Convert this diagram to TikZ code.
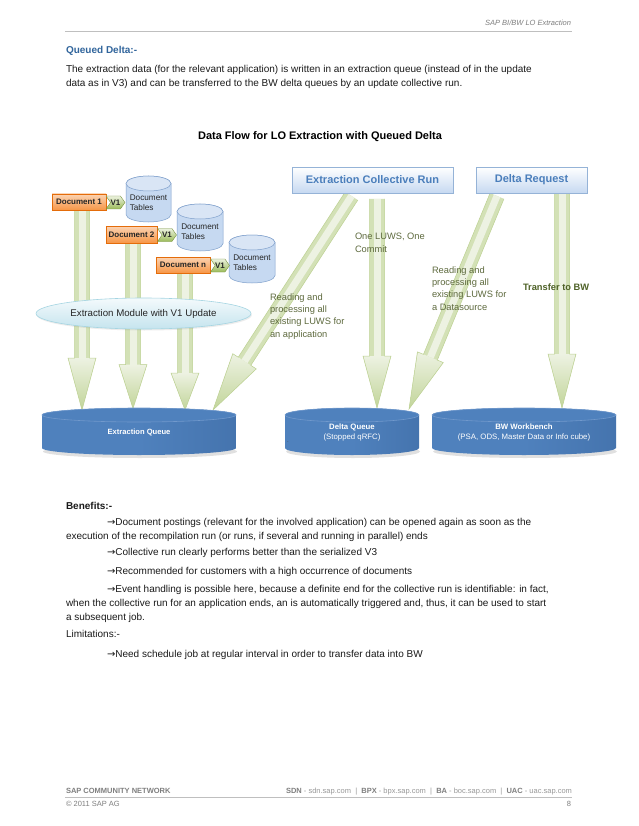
\documentclass[tikz,border=0pt]{standalone}
\usepackage{fontspec}
\setmainfont{Liberation Sans}
\newfontfamily\arrowfont{DejaVu Sans}
\usetikzlibrary{calc,shapes.geometric,shapes.symbols,shadows}
\pgfdeclarelayer{bg}
\pgfsetlayers{bg,main}
\definecolor{hdrgray}{HTML}{7F7F7F}
\definecolor{rulegray}{HTML}{BFBFBF}
\definecolor{qblue}{HTML}{31659C}
\definecolor{bodytxt}{HTML}{1A1A1A}
\definecolor{runblue}{HTML}{4A7EBB}
\definecolor{runline}{HTML}{95B3D7}
\definecolor{runfill}{HTML}{C6D9F1}
\definecolor{docline}{HTML}{E46C0A}
\definecolor{doctop}{HTML}{FBD4B4}
\definecolor{docbot}{HTML}{F79646}
\definecolor{vline}{HTML}{76923C}
\definecolor{vtop}{HTML}{EBF1DE}
\definecolor{vbot}{HTML}{9BBB59}
\definecolor{tblfill}{HTML}{C6D9F1}
\definecolor{tbltop}{HTML}{D9E5F5}
\definecolor{tblline}{HTML}{7E9FCB}
\definecolor{modline}{HTML}{A5D5E2}
\definecolor{modtop}{HTML}{F4FAFC}
\definecolor{modbot}{HTML}{C5E4EE}
\definecolor{cylblue}{HTML}{4F81BD}
\definecolor{cylside}{HTML}{4574AE}
\definecolor{cylrim}{HTML}{7199CC}
\definecolor{arrout}{HTML}{D3E1B6}
\definecolor{arrline}{HTML}{BDD193}
\definecolor{arrin}{HTML}{EDF2E2}
\definecolor{arrdark}{HTML}{C2D59A}
\definecolor{lblolive}{HTML}{5E6A3E}
\definecolor{xferolive}{HTML}{4F6228}
\newcommand\rarr{{\arrowfont\fontsize{10}{10}\selectfont →}}
% #1 start, #2 tip, #3 head length
\newcommand\blockarrow[3]{%
  \coordinate (ba-h) at ($(#2)!#3pt!(#1)$);
  \fill[arrowouter] ($(#1)!7.5pt!90:(#2)$) -- ($(ba-h)!7.5pt!90:(#2)$) -- ($(ba-h)!14pt!90:(#2)$) -- (#2) -- ($(ba-h)!14pt!-90:(#2)$) -- ($(ba-h)!7.5pt!-90:(#2)$) -- ($(#1)!7.5pt!-90:(#2)$) -- cycle;
  \fill[arrowinner] ($(#1)!3.5pt!90:(#2)$) -- ($(ba-h)!3.5pt!90:(#2)$) -- ($(ba-h)!3.5pt!-90:(#2)$) -- ($(#1)!3.5pt!-90:(#2)$) -- cycle;
  \shade[top color=arrin, bottom color=arrdark] ($(ba-h)!13.6pt!90:(#2)$) -- ($(#2)!0.6pt!(#1)$) -- ($(ba-h)!13.6pt!-90:(#2)$) -- cycle;
  \draw[arrowline] ($(#1)!7.5pt!90:(#2)$) -- ($(ba-h)!7.5pt!90:(#2)$) -- ($(ba-h)!14pt!90:(#2)$) -- (#2) -- ($(ba-h)!14pt!-90:(#2)$) -- ($(ba-h)!7.5pt!-90:(#2)$) -- ($(#1)!7.5pt!-90:(#2)$);
}
\newcommand\drawcyl[7]{%
  \pgfmathsetmacro\cylrx{(#2-#1)/2}%
  \pgfmathsetmacro\cylcx{(#1+#2)/2}%
  \pgfmathsetmacro\cylyt{#3+#5}%
  \pgfmathsetmacro\cylyb{#4-#5}%
  \path[#6] (#1,\cylyt) -- (#1,\cylyb) arc[start angle=180, end angle=0, x radius=\cylrx, y radius=#5] -- (#2,\cylyt) arc[start angle=0, end angle=-180, x radius=\cylrx, y radius=#5] -- cycle;
  \path[#7] (\cylcx,\cylyt) ellipse[x radius=\cylrx, y radius=#5];
}
\tikzset{
  arrowouter/.style={fill=arrout},
  arrowinner/.style={fill=arrin},
  arrowline/.style={draw=arrline, line width=0.5pt, line join=miter},
  bodyline/.style={anchor=base west, font=\fontsize{10}{12}\selectfont, text=bodytxt},
  docbox/.style={rectangle, draw=docline, line width=0.4pt, top color=doctop, bottom color=docbot,
    font=\fontsize{8}{9.6}\selectfont\bfseries, text=black!85, drop shadow={opacity=0.3, shadow xshift=0.8pt, shadow yshift=-1.2pt}},
  vone/.style={signal, signal from=west, signal to=east, signal pointer angle=110, draw=vline, line width=0.4pt,
    top color=vtop, bottom color=vbot, minimum width=17pt, minimum height=13pt, font=\fontsize{8}{9}\selectfont\bfseries, text=black!85},
  tbltext/.style={align=left, font=\fontsize{8.2}{10}\selectfont, text=black!85},
  runbox/.style={rectangle, draw=runline, line width=0.6pt, top color=white, bottom color=runfill, text=runblue,
    font=\fontsize{11}{13}\selectfont\bfseries, drop shadow={opacity=0.25, shadow xshift=1pt, shadow yshift=-1.5pt}},
  modell/.style={ellipse, draw=modline, line width=0.6pt, top color=modtop, bottom color=modbot,
    font=\fontsize{9.7}{11}\selectfont, text=black!85, minimum width=215pt, minimum height=31pt,
    drop shadow={opacity=0.15, shadow xshift=0.8pt, shadow yshift=-1.5pt}},
  cyltext/.style={align=center, text=white, font=\fontsize{7.8}{10}\selectfont, minimum height=50pt},
  lbl/.style={anchor=north west, align=left, font=\fontsize{9.3}{12.3}\selectfont, text=lblolive},
  blucylbody/.style={left color=cylblue, right color=cylside, middle color=cylblue},
  blucyltop/.style={fill=cylblue, draw=cylrim, line width=0.6pt},
  tblbody/.style={fill=tblfill, draw=tblline, line width=0.5pt},
  tbltopst/.style={fill=tbltop, draw=tblline, line width=0.5pt},
}
\begin{document}
\begin{tikzpicture}[x=1pt, y=-1pt, every node/.style={inner sep=0pt, outer sep=0pt}]
\useasboundingbox (0,0) rectangle (638,826);
\begin{pgfonlayer}{bg}
\fill[white] (0,0) rectangle (638,826);
\end{pgfonlayer}

% header
\node[anchor=base east, font=\fontsize{7.5}{9}\selectfont\itshape, text=hdrgray] (hdr) at (571,26) {SAP BI/BW LO Extraction};
\draw[rulegray, line width=0.6pt] (65,31) -- (572,31);
\node[anchor=base west, font=\fontsize{10}{12}\selectfont\bfseries, text=qblue] (qd) at (66,54) {Queued Delta:-};
\node[bodyline] (p1) at (66,73) {The extraction data (for the relevant application) is written in an extraction queue (instead of in the update};
\node[bodyline] (p2) at (66,87) {data as in V3) and can be transferred to the BW delta queues by an update collective run.};

% title
\node[anchor=base, font=\fontsize{11}{13}\selectfont\bfseries, text=black] (title) at (320,140) {Data Flow for LO Extraction with Queued Delta};

% top boxes
\node[runbox, minimum width=161pt, minimum height=26pt] (ecr) at (372.5,180) {Extraction Collective Run};
\node[runbox, minimum width=111pt, minimum height=26pt] (dr) at (531.5,180) {Delta Request};

% extraction module ellipse
\node[modell] (em) at (143.5,313.5) {Extraction Module with V1 Update};

% document tables cylinders
\drawcyl{126}{171}{176}{222}{7.5}{tblbody}{tbltopst}
\drawcyl{177}{223}{204}{251}{7.5}{tblbody}{tbltopst}
\drawcyl{229}{275}{235}{283}{7.5}{tblbody}{tbltopst}
\node[tbltext] (t1) at (148.5,203) {Document\\Tables};
\node[tbltext] (t2) at (200,231.5) {Document\\Tables};
\node[tbltext] (t3) at (252,263) {Document\\Tables};

% documents
\node[docbox, minimum width=54pt, minimum height=16pt] (doc1) at (79,202) {Document 1};
\node[docbox, minimum width=51pt, minimum height=17pt] (doc2) at (131.5,234.5) {Document 2};
\node[docbox, minimum width=54pt, minimum height=16pt] (docn) at (183,265) {Document n};
\node[vone] (v1a) at (115.5,202.5) {V1};
\node[vone] (v1b) at (167,235) {V1};
\node[vone] (v1c) at (220,265.5) {V1};

% bottom cylinders
\fill[black, opacity=0.12] (140,451.5) ellipse[x radius=97, y radius=6.5];
\fill[black, opacity=0.12] (353,451.5) ellipse[x radius=67, y radius=6.5];
\fill[black, opacity=0.12] (525,451.5) ellipse[x radius=92, y radius=6.5];
\drawcyl{42}{236}{408}{455}{7}{blucylbody}{blucyltop}
\drawcyl{285}{419}{408}{455}{7}{blucylbody}{blucyltop}
\drawcyl{432}{616}{408}{455}{7}{blucylbody}{blucyltop}
\node[cyltext, minimum width=194pt, font=\fontsize{7.6}{10}\selectfont\bfseries] (eq) at (139,432) {Extraction Queue};
\node[cyltext, minimum width=134pt] (dq) at (352,432) {\textbf{Delta Queue}\\(Stopped qRFC)};
\node[cyltext, minimum width=184pt] (bw) at (524,432) {\textbf{BW Workbench}\\(PSA, ODS, Master Data or Info cube)};
\node[font=\fontsize{6}{6}\selectfont, text=black!70] (dot) at (288,442) {.};

% arrow end points
\coordinate (b1s) at ($(doc1.south)+(3,-2)$);
\coordinate (b1e) at ($(b1s |- eq.north)+(0,3)$);
\coordinate (b2s) at ($(doc2.south)+(1.5,-2)$);
\coordinate (b2e) at ($(b2s |- eq.north)+(0,1.5)$);
\coordinate (b3s) at ($(docn.south)+(2,-2)$);
\coordinate (b3e) at ($(b3s |- eq.north)+(0,3)$);
\coordinate (d1s) at ($(ecr.south)+(-21,3)$);
\coordinate (d1e) at ($(eq.north east)+(-23,3)$);
\coordinate (c2s) at ($(ecr.south)+(4.5,6)$);
\coordinate (c2e) at ($(c2s |- dq.north)+(0,1)$);
\coordinate (d3s) at ($(dr.south)+(-34.5,3)$);
\coordinate (d3e) at ($(dq.north east)+(-10,2)$);
\coordinate (c4s) at ($(dr.south)+(30.5,1)$);
\coordinate (c4e) at ($(c4s |- bw.north)+(0,1)$);

\begin{pgfonlayer}{bg}
\blockarrow{b1s}{b1e}{52}
\blockarrow{b2s}{b2e}{44}
\blockarrow{b3s}{b3e}{37}
\blockarrow{d1s}{d1e}{58}
\blockarrow{c2s}{c2e}{52}
\blockarrow{d3s}{d3e}{56}
\blockarrow{c4s}{c4e}{54}
\end{pgfonlayer}

% arrow labels
\node[lbl] (l1) at (355,233.5) {One LUWS, One\\Commit};
\node[lbl] (l2) at (432,266.5) {Reading and\\processing all\\existing LUWS for\\a Datasource};
\node[lbl] (l3) at (270,293.5) {Reading and\\processing all\\existing LUWS for\\an application};
\node[anchor=west, font=\fontsize{9.3}{11}\selectfont\bfseries, text=xferolive] (l4) at (523,287) {Transfer to BW};

% benefits
\node[bodyline, font=\fontsize{10}{12}\selectfont\bfseries] (ben) at (66,509) {Benefits:-};
\node[bodyline] (b1) at (107,525) {\rarr Document postings (relevant for the involved application) can be opened again as soon as the};
\node[bodyline] (b1b) at (66,539) {execution of the recompilation run (or runs, if several and running in parallel) ends};
\node[bodyline] (b2) at (107,555) {\rarr Collective run clearly performs better than the serialized V3};
\node[bodyline] (b3) at (107,574) {\rarr Recommended for customers with a high occurrence of documents};
\node[bodyline] (b4) at (107,592) {\rarr Event handling is possible here, because a definite end for the collective run is identifiable: in fact,};
\node[bodyline] (b4b) at (66,606) {when the collective run for an application ends, an is automatically triggered and, thus, it can be used to start};
\node[bodyline] (b4c) at (66,620) {a subsequent job.};
\node[bodyline] (lim) at (66,637) {Limitations:-};
\node[bodyline] (l5) at (107,657) {\rarr Need schedule job at regular interval in order to transfer data into BW};

% footer
\node[anchor=base west, font=\fontsize{7.5}{9}\selectfont\bfseries, text=hdrgray] (f1) at (66,793) {SAP COMMUNITY NETWORK};
\node[anchor=base east, font=\fontsize{7.5}{9}\selectfont, text=hdrgray!80] (f2) at (572,793) {\textbf{\color{hdrgray}SDN} - sdn.sap.com \ | \ \textbf{\color{hdrgray}BPX} - bpx.sap.com \ | \ \textbf{\color{hdrgray}BA} - boc.sap.com \ | \ \textbf{\color{hdrgray}UAC} - uac.sap.com};
\draw[rulegray, line width=0.6pt] (65,797) -- (572,797);
\node[anchor=base west, font=\fontsize{7.5}{9}\selectfont, text=hdrgray] (f3) at (66,806) {© 2011 SAP AG};
\node[anchor=base east, font=\fontsize{7.5}{9}\selectfont, text=hdrgray] (f4) at (571,806) {8};
\end{tikzpicture}
\end{document}
